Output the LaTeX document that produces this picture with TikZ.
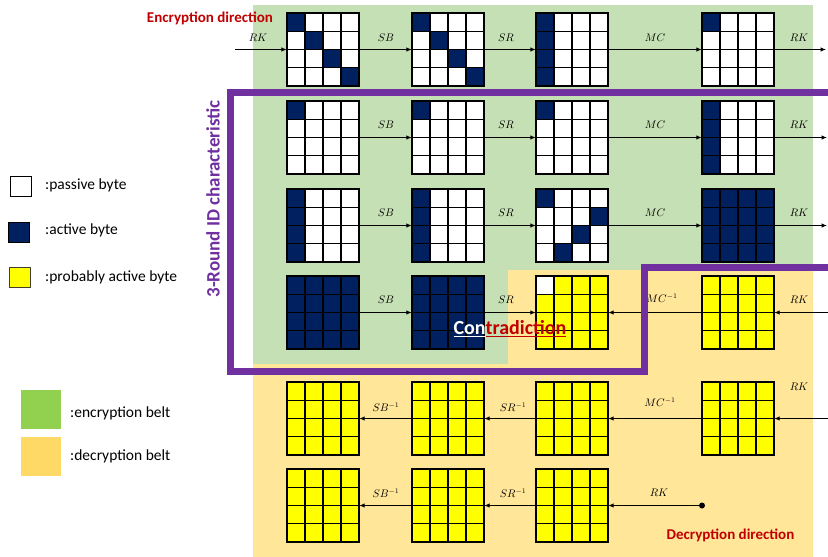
\documentclass[tikz,border=0pt]{standalone}
\usepackage{fontspec}
\setmainfont{Carlito}
\usetikzlibrary{arrows.meta}
\definecolor{navy}{HTML}{002060}
\definecolor{byellow}{HTML}{FFFF00}
\definecolor{beltgreen}{HTML}{C5E0B4}
\definecolor{beltorange}{HTML}{FFE699}
\definecolor{leggreen}{HTML}{92D050}
\definecolor{legorange}{HTML}{FFD966}
\definecolor{idpurple}{HTML}{7030A0}
\definecolor{darkred}{HTML}{C00000}
\tikzset{
  gridbox/.style={minimum width=72pt, minimum height=73pt, inner sep=0pt, draw=none},
  gridline/.style={line width=1.1pt, black, line cap=rect},
  conn/.style={line width=1.4pt, -{Latex[length=5.5pt,width=4.5pt]}},
  oplabel/.style={font=\fontsize{10.5}{12}\selectfont, inner sep=0pt},
  legtext/.style={font=\fontsize{15.5}{18}\selectfont, anchor=west, inner sep=0pt},
  dirtext/.style={font=\fontsize{15}{18}\selectfont\bfseries, text=darkred, inner sep=0pt},
  legsq/.style={minimum width=21pt, minimum height=20pt, inner sep=0pt},
  belt/.style={minimum width=40pt, minimum height=39pt, inner sep=0pt},
}
\newcommand{\cellgrid}[5]{%
  \fill[#4] (#2,#3) rectangle ++(72,73);
  \foreach \myr/\myc/\myk in {#5}{\fill[\myk] ({#2+\myc*18},{#3+\myr*18.25}) rectangle ++(18,18.25);}
  \foreach \myi in {0,...,4}{%
    \draw[gridline] ({#2+\myi*18},#3) -- ++(0,73);
    \draw[gridline] (#2,{#3+\myi*18.25}) -- ++(72,0);}
  \node[gridbox] (#1) at ({#2+36},{#3+36.5}) {};
}
\begin{document}
\begin{tikzpicture}[x=1pt,y=-1pt]
\fill[white] (0,0) rectangle (828,557);
\useasboundingbox (0,0) rectangle (828,557);
% belts
\fill[beltorange] (253,270) rectangle (813,557);
\fill[beltgreen] (253,5) rectangle (813,270);
\fill[beltgreen] (253,269) rectangle (508,364);
% row 1
\cellgrid{g11}{287}{13}{white}{0/0/navy,1/1/navy,2/2/navy,3/3/navy}
\cellgrid{g12}{412}{13}{white}{0/0/navy,1/1/navy,2/2/navy,3/3/navy}
\cellgrid{g13}{536}{13}{white}{0/0/navy,1/0/navy,2/0/navy,3/0/navy}
\cellgrid{g14}{702}{13}{white}{0/0/navy}
% row 2
\cellgrid{g21}{287}{101}{white}{0/0/navy}
\cellgrid{g22}{412}{101}{white}{0/0/navy}
\cellgrid{g23}{536}{101}{white}{0/0/navy}
\cellgrid{g24}{702}{101}{white}{0/0/navy,1/0/navy,2/0/navy,3/0/navy}
% row 3
\cellgrid{g31}{287}{189}{white}{0/0/navy,1/0/navy,2/0/navy,3/0/navy}
\cellgrid{g32}{412}{189}{white}{0/0/navy,1/0/navy,2/0/navy,3/0/navy}
\cellgrid{g33}{536}{189}{white}{0/0/navy,1/3/navy,2/2/navy,3/1/navy}
\cellgrid{g34}{702}{189}{navy}{0/0/navy}
% row 4
\cellgrid{g41}{287}{276}{navy}{0/0/navy}
\cellgrid{g42}{412}{276}{navy}{0/0/navy}
\cellgrid{g43}{536}{276}{byellow}{0/0/white}
\cellgrid{g44}{702}{276}{byellow}{0/0/byellow}
% row 5
\cellgrid{g51}{287}{382}{byellow}{0/0/byellow}
\cellgrid{g52}{412}{382}{byellow}{0/0/byellow}
\cellgrid{g53}{536}{382}{byellow}{0/0/byellow}
\cellgrid{g54}{702}{382}{byellow}{0/0/byellow}
% row 6
\cellgrid{g61}{287}{469}{byellow}{0/0/byellow}
\cellgrid{g62}{412}{469}{byellow}{0/0/byellow}
\cellgrid{g63}{536}{469}{byellow}{0/0/byellow}
% free ends
\coordinate (in1) at (235,49.5);
\coordinate (out1) at (826,49.5);
\coordinate (out2) at (827,137.5);
\coordinate (out3) at (827,225.5);
\coordinate (in4) at (828,312.5);
\coordinate (in5) at (828,418.5);
\node[circle, fill=black, inner sep=0pt, minimum size=6pt] (dot) at (702,505.5) {};
% connectors row 1
\draw[conn] (in1) -- (g11.west);
\draw[conn] (g11.east) -- (g12.west);
\draw[conn] (g12.east) -- (g13.west);
\draw[conn] (g13.east) -- (g14.west);
\draw[conn] (g14.east) -- (out1);
% row 2
\draw[conn] (g21.east) -- (g22.west);
\draw[conn] (g22.east) -- (g23.west);
\draw[conn] (g23.east) -- (g24.west);
\draw[conn] (g24.east) -- (out2);
% row 3
\draw[conn] (g31.east) -- (g32.west);
\draw[conn] (g32.east) -- (g33.west);
\draw[conn] (g33.east) -- (g34.west);
\draw[conn] (g34.east) -- (out3);
% row 4
\draw[conn] (g41.east) -- (g42.west);
\draw[conn] (g42.east) -- (g43.west);
\draw[conn] (g44.west) -- (g43.east);
\draw[conn] (in4) -- (g44.east);
% row 5
\draw[conn] (in5) -- (g54.east);
\draw[conn] (g54.west) -- (g53.east);
\draw[conn] (g53.west) -- (g52.east);
\draw[conn] (g52.west) -- (g51.east);
% row 6
\draw[conn] (dot) -- (g63.east);
\draw[conn] (g63.west) -- (g62.east);
\draw[conn] (g62.west) -- (g61.east);
% labels
\node[oplabel] (l10) at (258,38) {$RK$};
\node[oplabel] (l11) at (386,38) {$SB$};
\node[oplabel] (l12) at (506,38) {$SR$};
\node[oplabel] (l13) at (655,38) {$MC$};
\node[oplabel] (l14) at (799,38) {$RK$};
\node[oplabel] (l21) at (386,124.5) {$SB$};
\node[oplabel] (l22) at (506,124.5) {$SR$};
\node[oplabel] (l23) at (655,124.5) {$MC$};
\node[oplabel] (l24) at (799,124.5) {$RK$};
\node[oplabel] (l31) at (386,212.5) {$SB$};
\node[oplabel] (l32) at (506,212.5) {$SR$};
\node[oplabel] (l33) at (655,212.5) {$MC$};
\node[oplabel] (l34) at (799,212.5) {$RK$};
\node[oplabel] (l41) at (386,300) {$SB$};
\node[oplabel] (l42) at (506,300) {$SR$};
\node[oplabel] (l43) at (662,298.5) {$MC^{-1}$};
\node[oplabel] (l44) at (799,300) {$RK$};
\node[oplabel] (l51) at (386,407) {$SB^{-1}$};
\node[oplabel] (l52) at (513,407) {$SR^{-1}$};
\node[oplabel] (l53) at (660,402) {$MC^{-1}$};
\node[oplabel] (l54) at (799,387) {$RK$};
\node[oplabel] (l61) at (386,493) {$SB^{-1}$};
\node[oplabel] (l62) at (513,493) {$SR^{-1}$};
\node[oplabel] (l63) at (659,493) {$RK$};
% purple frame
\draw[idpurple, line width=7pt, miter limit=10] (830,92.5) -- (230,92.5) -- (230,371) -- (644,371) -- (644,267) -- (830,267);
\node[rotate=90, font=\fontsize{19}{22}\selectfont\bfseries, text=idpurple, inner sep=0pt] (idlabel) at (213,199) {3-Round ID characteristic};
% contradiction
\node[font=\fontsize{20}{24}\selectfont\bfseries, inner sep=0pt] (contra) at (510,329) {\textcolor{white}{\underline{Con}}\textcolor{darkred}{\underline{tradiction}}};
% direction texts
\node[dirtext] (encdir) at (210,18) {Encryption direction};
\node[dirtext] (decdir) at (730.5,535) {Decryption direction};
% legend
\node[legsq, draw=black, line width=0.8pt, fill=white] (lpass) at (20.5,186.5) {};
\node[legsq, draw=black, line width=0.8pt, fill=navy] (lact) at (18.5,232) {};
\node[legsq, draw=black!70!olive, line width=0.8pt, fill=byellow] (lprob) at (20,277) {};
\node[legtext] (tpass) at (45,185) {:passive byte};
\node[legtext] (tact) at (45,230) {:active byte};
\node[legtext] (tprob) at (45,277) {:probably active byte};
\node[belt, fill=leggreen] (lenc) at (41,409.5) {};
\node[belt, fill=legorange] (ldec) at (41,456.5) {};
\node[legtext] (tenc) at (70,413) {:encryption belt};
\node[legtext] (tdec) at (70,456) {:decryption belt};
\end{tikzpicture}
\end{document}
